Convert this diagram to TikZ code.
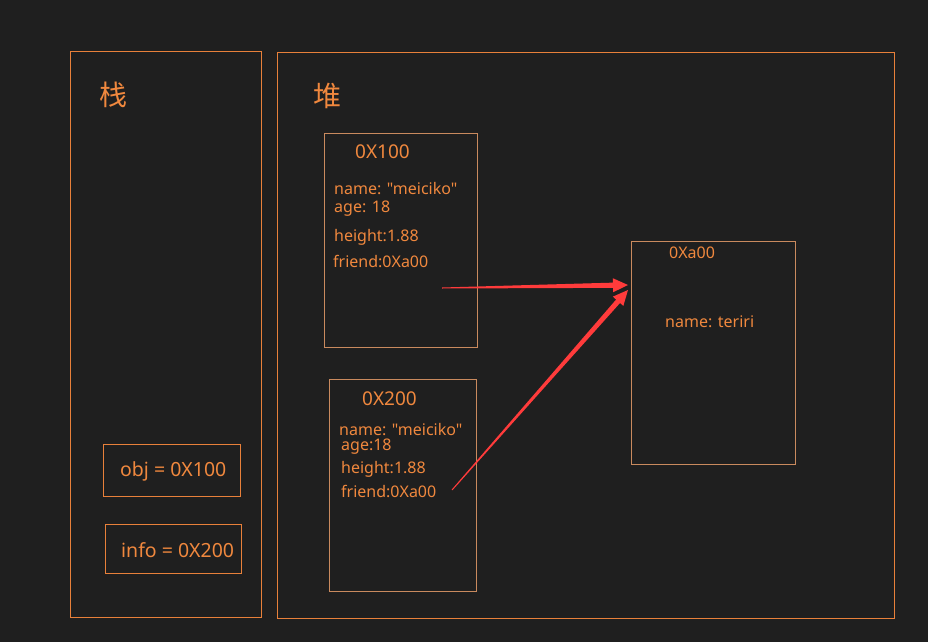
\documentclass[tikz,border=0pt]{standalone}
\usepackage{fontspec}
\setmainfont{Noto Sans}[Ligatures=TeXOff]
\newfontfamily\cjk{Noto Sans CJK SC}
\usetikzlibrary{calc}

\definecolor{bgdark}{HTML}{1F1F1F}
\definecolor{txtorange}{HTML}{F0883E}
\definecolor{lineorange}{HTML}{E8803A}
\definecolor{boxorange}{HTML}{C98A5E}
\definecolor{arrowred}{HTML}{FF3B3B}

\newcommand{\qt}{\symbol{34}}
% tapered arrow from #1 to #2
\newcommand{\refarrow}[2]{%
  \coordinate (hb) at ($(#2)!15pt!(#1)$);
  \fill[arrowred] ($(#1)!0.5pt!90:(#2)$) -- ($(hb)!2.6pt!90:(#2)$) -- ($(hb)!7pt!90:(#2)$)
    -- (#2) -- ($(hb)!7pt!-90:(#2)$) -- ($(hb)!2.6pt!-90:(#2)$) -- ($(#1)!0.5pt!-90:(#2)$) -- cycle;}

\begin{document}
\begin{tikzpicture}[x = 1pt, y = -1pt,
    area/.style = {draw = lineorange, line width = 0.8pt},
    membox/.style = {draw = boxorange, line width = 0.7pt, inner sep = 0pt},
    title/.style = {text = txtorange, font = \cjk\fontsize{28}{32}\selectfont, anchor = west, inner sep = 0pt},
    addr/.style = {text = txtorange, font = \fontsize{19.5}{23}\selectfont, anchor = west, inner sep = 0pt},
    field/.style = {text = txtorange, font = \fontsize{16}{19}\selectfont, anchor = west, inner sep = 0pt}]
  \fill[bgdark] (0, 0) rectangle (928, 642);
  \useasboundingbox (0, 0) rectangle (928, 642);

  % stack and heap
  \draw [area] (70, 51) rectangle (261, 617);
  \draw [area] (277, 52) rectangle (894, 618);
  \node [title] (stack) at (99, 95){栈};
  \node [title] (heap) at (313, 96){堆};

  % stack variables
  \node [membox, draw = lineorange, minimum width = 137pt, minimum height = 52pt] (obj) at (171.5, 470){};
  \node [addr] (objtxt) at (120, 471){obj = 0X100};
  \node [membox, draw = lineorange, minimum width = 136pt, minimum height = 49pt] (info) at (173, 548.5){};
  \node [addr] (infotxt) at (121, 550){info = 0X200};

  % object 0X100
  \node [membox, minimum width = 153pt, minimum height = 214pt] (m100) at (400.5, 240){};
  \node [addr, font = \fontsize{19}{22}\selectfont] (t100) at (355, 152){0X100};
  \node [field] (n100) at (334, 189){name: \qt meiciko\qt};
  \node [field] (a100) at (334, 209){age: 18};
  \node [field] (h100) at (334, 237){height:1.88};
  \node [field] (f100) at (333, 261){friend:0Xa00};

  % object 0X200
  \node [membox, minimum width = 147pt, minimum height = 212pt] (m200) at (402.5, 485){};
  \node [addr, font = \fontsize{19}{22}\selectfont] (t200) at (362, 399){0X200};
  \node [field] (n200) at (339, 430){name: \qt meiciko\qt};
  \node [field] (a200) at (341, 447){age:18};
  \node [field] (h200) at (341, 469){height:1.88};
  \node [field] (f200) at (341, 491){friend:0Xa00};

  % object 0Xa00
  \node [membox, minimum width = 164pt, minimum height = 223pt] (ma00) at (713, 352.5){};
  \node [addr, font = \fontsize{16}{19}\selectfont] (ta00) at (669, 253){0Xa00};
  \node [field] (na00) at (665, 322){name: teriri};

  \coordinate (from1) at (442, 288);
  \coordinate (from2) at (452, 490);
  \coordinate (to1) at (628, 285);
  \coordinate (to2) at (628, 290);
  \refarrow{from1}{to1}
  \refarrow{from2}{to2}
\end{tikzpicture}
\end{document}
